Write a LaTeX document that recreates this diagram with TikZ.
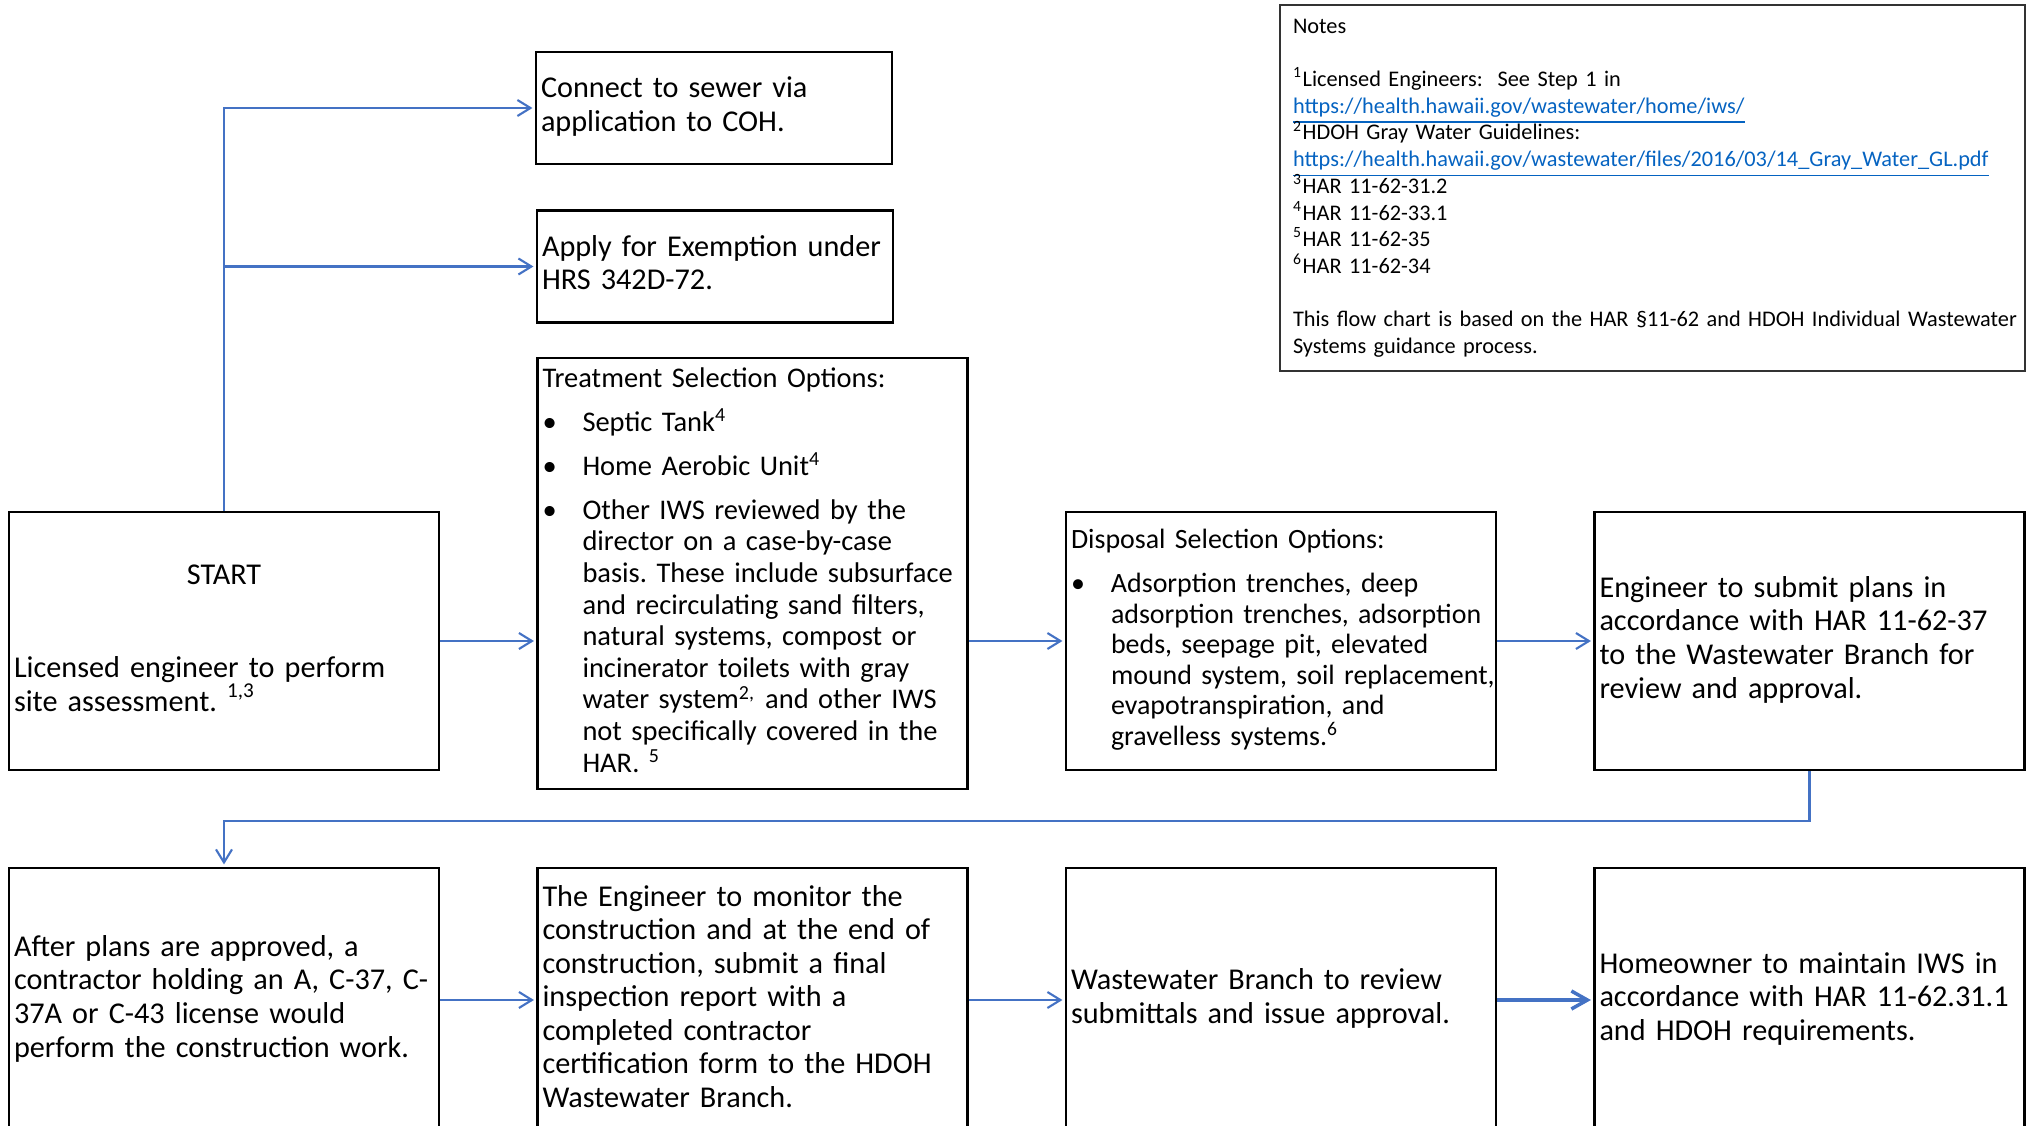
\documentclass[tikz,border=0pt]{standalone}
\usepackage{fontspec}
\setmainfont{Carlito}
\usetikzlibrary{arrows.meta}

\definecolor{flowblue}{HTML}{4472C4}
\definecolor{linkblue}{HTML}{0563C1}

\frenchspacing
% lines set as given, never rewrapped
\newcommand{\rows}[1]{\begin{tabular}{@{}l@{}}#1\end{tabular}}
% bullet with a hanging indent for the option lists
\newcommand{\bul}{\makebox[4mm][l]{\textbullet}}
\newcommand{\ind}{\hspace*{4mm}}
% footnote marks and links that keep the line pitch
\newcommand{\fn}[1]{\smash{\textsuperscript{#1}}}
\newcommand{\weblink}[1]{\textcolor{linkblue}{\smash{\underline{#1}}}}

\begin{document}
\begin{tikzpicture}[
  every node/.style={font=\fontsize{8.6}{9.55}\selectfont},
  stepbox/.style={draw, line width=0.6pt, align=left, inner xsep=0.5mm,
    inner ysep=0.5mm, text width=4.2cm, minimum height=2.58cm},
  smallbox/.style={stepbox, text width=3.46cm, minimum height=1.12cm},
  lowbox/.style={stepbox, minimum height=2.64cm},
  flow/.style={draw=flowblue, line width=0.6pt,
    -{Straight Barb[length=1.3mm,width=1.6mm]}, shorten >=0.25mm}
]
  \useasboundingbox (0,0) rectangle (20.26,11.25);

  % start and the two side branches
  \node[stepbox] (start) at (2.24,4.84)
    {\rows{\makebox[4.2cm]{START}\\[17pt]
     Licensed engineer to perform\\
     site assessment. \fn{1,3}}};
  \node[smallbox] (connect) at (7.14,10.17)
    {\rows{Connect to sewer via\\application to COH.}};
  \node[smallbox] (exempt) at (7.15,8.585)
    {\rows{Apply for Exemption under\\HRS 342D-72.}};

  % treatment and disposal
  \node[stepbox, minimum height=4.31cm, font=\fontsize{8.1}{9}\selectfont] (treat) at (7.525,5.515)
    {\rows{Treatment Selection Options:\\[3.5pt]
     \bul Septic Tank\fn{4}\\[3.5pt]
     \bul Home Aerobic Unit\fn{4}\\[3.5pt]
     \bul Other IWS reviewed by the\\
     \ind director on a case-by-case\\
     \ind basis. These include subsurface\\
     \ind and recirculating sand filters,\\
     \ind natural systems, compost or\\
     \ind incinerator toilets with gray\\
     \ind water system\fn{2,} and other IWS\\
     \ind not specifically covered in the\\
     \ind HAR. \fn{5}}};
  \node[stepbox, font=\fontsize{7.95}{8.7}\selectfont] (disposal) at (12.81,4.84)
    {\rows{Disposal Selection Options:\\[3.8pt]
     \bul Adsorption trenches, deep\\
     \ind adsorption trenches, adsorption\\
     \ind beds, seepage pit, elevated\\
     \ind mound system, soil replacement,\\
     \ind evapotranspiration, and\\
     \ind gravelless systems.\fn{6}}};
  \node[stepbox] (submit) at (18.095,4.84)
    {\rows{Engineer to submit plans in\\
     accordance with HAR 11-62-37\\
     to the Wastewater Branch for\\
     review and approval.}};

  % construction row
  \node[lowbox] (contractor) at (2.24,1.25)
    {\rows{After plans are approved, a\\
     contractor holding an A, C-37, C-\\
     37A or C-43 license would\\
     perform the construction work.}};
  \node[lowbox] (monitor) at (7.525,1.25)
    {\rows{The Engineer to monitor the\\
     construction and at the end of\\
     construction, submit a final\\
     inspection report with a\\
     completed contractor\\
     certification form to the HDOH\\
     Wastewater Branch.}};
  \node[lowbox] (review) at (12.81,1.25)
    {\rows{Wastewater Branch to review\\
     submittals and issue approval.}};
  \node[lowbox] (maintain) at (18.095,1.25)
    {\rows{Homeowner to maintain IWS in\\
     accordance with HAR 11-62.31.1\\
     and HDOH requirements.}};

  % footnotes
  \node[draw=black!80, line width=0.55pt, align=left, inner xsep=1.3mm,
    inner ysep=0.5mm, text width=7.19cm, minimum height=3.66cm,
    font=\fontsize{6.35}{7.6}\selectfont] (notes) at (16.525,9.37)
    {\rows{Notes\\[7.6pt]
     \fn{1}Licensed Engineers:\ \ See Step 1 in\\
     \weblink{https://health.hawaii.gov/wastewater/home/iws/}\\
     \fn{2}HDOH Gray Water Guidelines:\\
     \weblink{https://health.hawaii.gov/wastewater/files/2016/03/14\_Gray\_Water\_GL.pdf}\\
     \fn{3}HAR 11-62-31.2\\
     \fn{4}HAR 11-62-33.1\\
     \fn{5}HAR 11-62-35\\
     \fn{6}HAR 11-62-34\\[7.6pt]
     This flow chart is based on the HAR §11-62 and HDOH Individual Wastewater\\
     Systems guidance process.}};

  % connectors
  \draw[flow] (start.north) |- (connect.west);
  \draw[flow] (start.north) |- (exempt.west);
  \draw[flow] (start.east) -- (start.east -| treat.west);
  \draw[flow] (treat.east |- disposal.west) -- (disposal.west);
  \draw[flow] (disposal.east) -- (submit.west);
  \draw[flow] (submit.south) -- ++(0,-0.5) -| (contractor.north);
  \draw[flow] (contractor.east) -- (monitor.west);
  \draw[flow] (monitor.east) -- (review.west);
  \draw[flow, line width=1pt, -{Straight Barb[length=1.6mm,width=1.8mm]}]
    (review.east) -- (maintain.west);
\end{tikzpicture}
\end{document}
